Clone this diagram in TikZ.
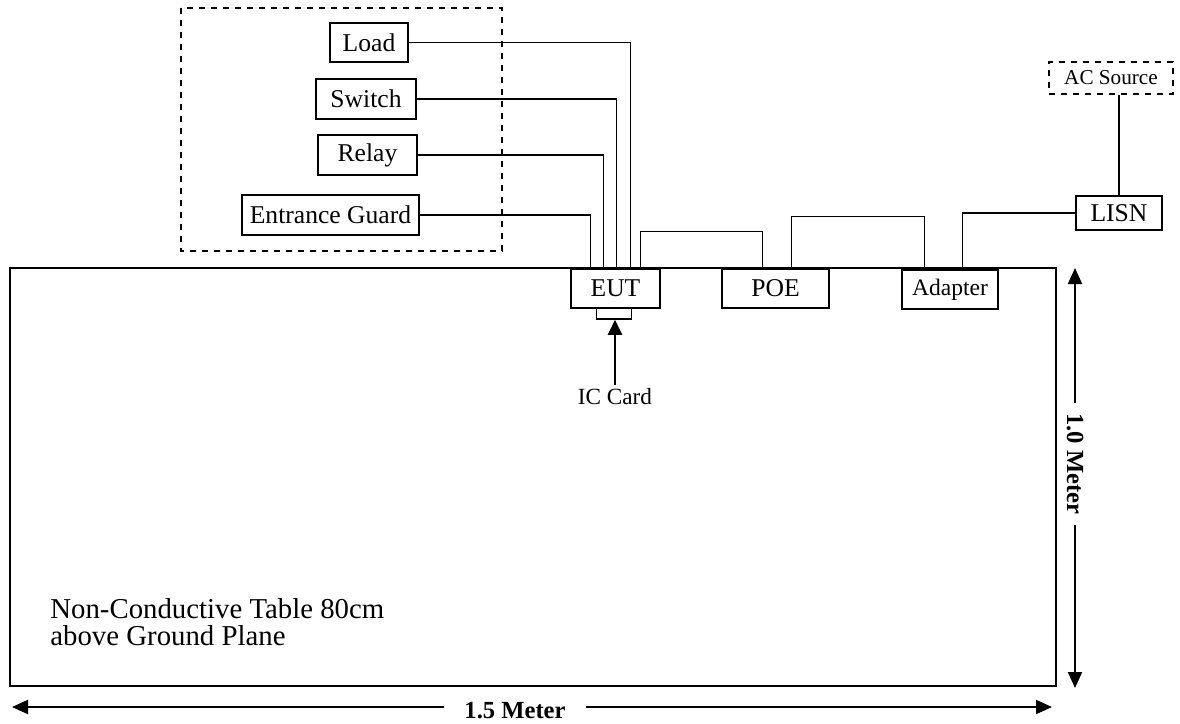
\documentclass[tikz,border=0pt]{standalone}
\usepackage{fontspec}
\setmainfont{Liberation Serif}
\usetikzlibrary{arrows.meta}

\tikzset{
  unitbox/.style={draw, fill=white, line width=0.75pt, inner sep=0pt,
    font=\fontsize{12.8}{15}\selectfont},
  cable/.style={line width=0.6pt},
  dimarrow/.style={line width=1pt, {Triangle[length=8pt,width=7pt]}-{Triangle[length=8pt,width=7pt]}},
  dimlabel/.style={fill=white, inner sep=0pt, font=\fontsize{12.3}{14}\selectfont\bfseries}
}

\begin{document}
\begin{tikzpicture}[x=0.5pt, y=-0.5pt]
  \useasboundingbox (0,0) rectangle (1180,724);

  % table and the dashed area of the peripherals
  \draw[line width=0.75pt] (10,268) rectangle (1056,686);
  \draw[dashed, line width=0.6pt] (181,8) rectangle (502,251);

  \node[unitbox, minimum width=39pt, minimum height=19.5pt] (load) at (369,42.5) {Load};
  \node[unitbox, minimum width=50pt, minimum height=20pt] (switch) at (366,99) {Switch};
  \node[unitbox, minimum width=49.5pt, minimum height=20pt] (relay) at (367.5,155) {Relay};
  \node[unitbox, minimum width=88.5pt, minimum height=20pt] (guard) at (330.5,215) {Entrance Guard};

  \node[unitbox, minimum width=44.5pt, minimum height=19.5pt] (eut) at (615.5,288.5) {EUT};
  \node[unitbox, minimum width=17.5pt, minimum height=5.5pt] (slot) at (614,313.5) {};
  \node[unitbox, minimum width=53.5pt, minimum height=19.5pt] (poe) at (775.5,288.5) {POE};
  \node[unitbox, minimum width=48pt, minimum height=19.5pt,
    font=\fontsize{11.8}{14}\selectfont] (adapter) at (950,289.5) {Adapter};
  \node[unitbox, minimum width=43pt, minimum height=17pt] (lisn) at (1119,213) {LISN};
  \node[unitbox, dashed, line width=0.6pt, minimum width=62pt, minimum height=16pt,
    font=\fontsize{10.6}{12}\selectfont] (acsrc) at (1111,78) {AC Source};

  \node[font=\fontsize{11.6}{14}\selectfont, inner sep=0pt] (iccard) at (615,397) {IC Card};

  % cables
  \draw[cable] (load.east) -| ([shift={(60,0)}]eut.north west);
  \draw[cable] (switch.east) -| ([shift={(46,0)}]eut.north west);
  \draw[cable] (relay.east) -| ([shift={(33,0)}]eut.north west);
  \draw[cable] (guard.east) -| ([shift={(20,0)}]eut.north west);
  \draw[cable] ([shift={(70,0)}]eut.north west) -- ++(0,-37) -| ([shift={(41,0)}]poe.north west);
  \draw[cable] ([shift={(70,0)}]poe.north west) -- ++(0,-52) -| ([shift={(23,0)}]adapter.north west);
  \draw[cable] ([shift={(61,0)}]adapter.north west) |- (lisn.west);
  \draw[line width=0.75pt] (lisn.north) -- (lisn.north |- acsrc.south);

  \draw[line width=1pt, -{Triangle[length=7.5pt,width=7pt]}] ([yshift=1.5pt]iccard.north) -- (iccard.north |- slot.south);

  % dimensions
  \coordinate (hleft) at (12,707);
  \coordinate (hright) at (1052,707);
  \coordinate (vtop) at (1075,268);
  \coordinate (vbottom) at (1075,688);
  \draw[dimarrow] (hleft) -- (hright);
  \draw[dimarrow] (vtop) -- (vbottom);
  \node[dimlabel, inner xsep=10pt] (len) at (515,711) {1.5 Meter};
  \node[dimlabel, rotate=-90, inner xsep=5pt] (wid) at (1075,464) {1.0 Meter};

  \node[anchor=north west, align=left, inner sep=0pt,
    font=\fontsize{14.4}{13.6}\selectfont] (tablenote) at (50,598)
    {Non-Conductive Table 80cm\\above Ground Plane};
\end{tikzpicture}
\end{document}
